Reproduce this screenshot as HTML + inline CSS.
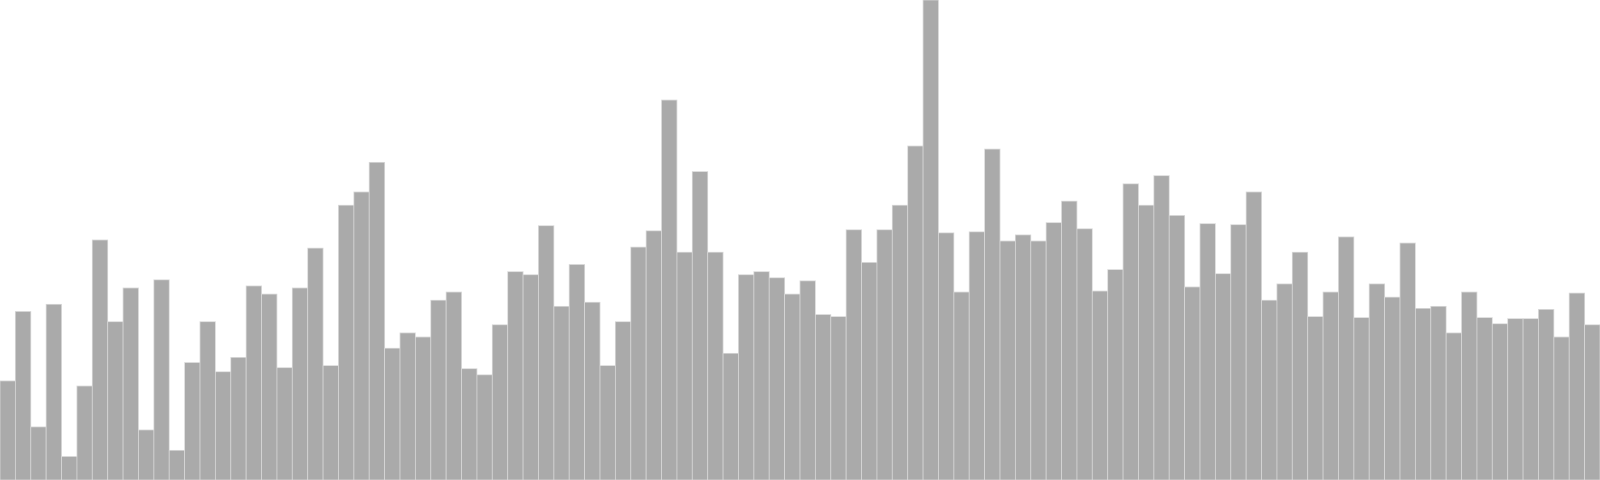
<!DOCTYPE html>
<html><head><meta charset="utf-8"><style>html,body{margin:0;padding:0;background:#fff;width:1600px;height:480px;overflow:hidden}</style></head>
<body>
<svg id="chart" width="1600" height="480" xmlns="http://www.w3.org/2000/svg"></svg>
<script>
const values = [97,165,52,172,23,92,235,155,188,49,196,29,115,155,106,120,190,182,110,188,227,112,269,282,311,129,144,140,176,184,109,103,152,204,201,249,170,211,174,112,155,228,244,372,223,302,223,124,201,204,198,182,195,162,160,245,213,245,269,327,470,242,184,243,324,234,240,234,252,273,246,185,206,290,269,298,259,189,251,202,250,282,176,192,223,160,184,238,159,192,179,232,168,170,144,184,159,153,158,158,167,140,183,152];
const categories = values.map((v, i) => 'bin-' + i);
const svg = document.getElementById('chart');
const W = 1600, H = 480, maxV = 470;
const bw = W / categories.length;
const x = i => i * bw;
const y = v => H - v / maxV * H;
values.forEach((v, i) => {
  const r = document.createElementNS('http://www.w3.org/2000/svg', 'rect');
  r.setAttribute('x', x(i));
  r.setAttribute('y', y(v));
  r.setAttribute('width', bw);
  r.setAttribute('height', H - y(v));
  r.setAttribute('fill', '#aaaaaa');
  r.setAttribute('stroke', '#d8d8d8');
  r.setAttribute('stroke-width', '0.8');
  
  
  svg.appendChild(r);
});
</script>
</body></html>
